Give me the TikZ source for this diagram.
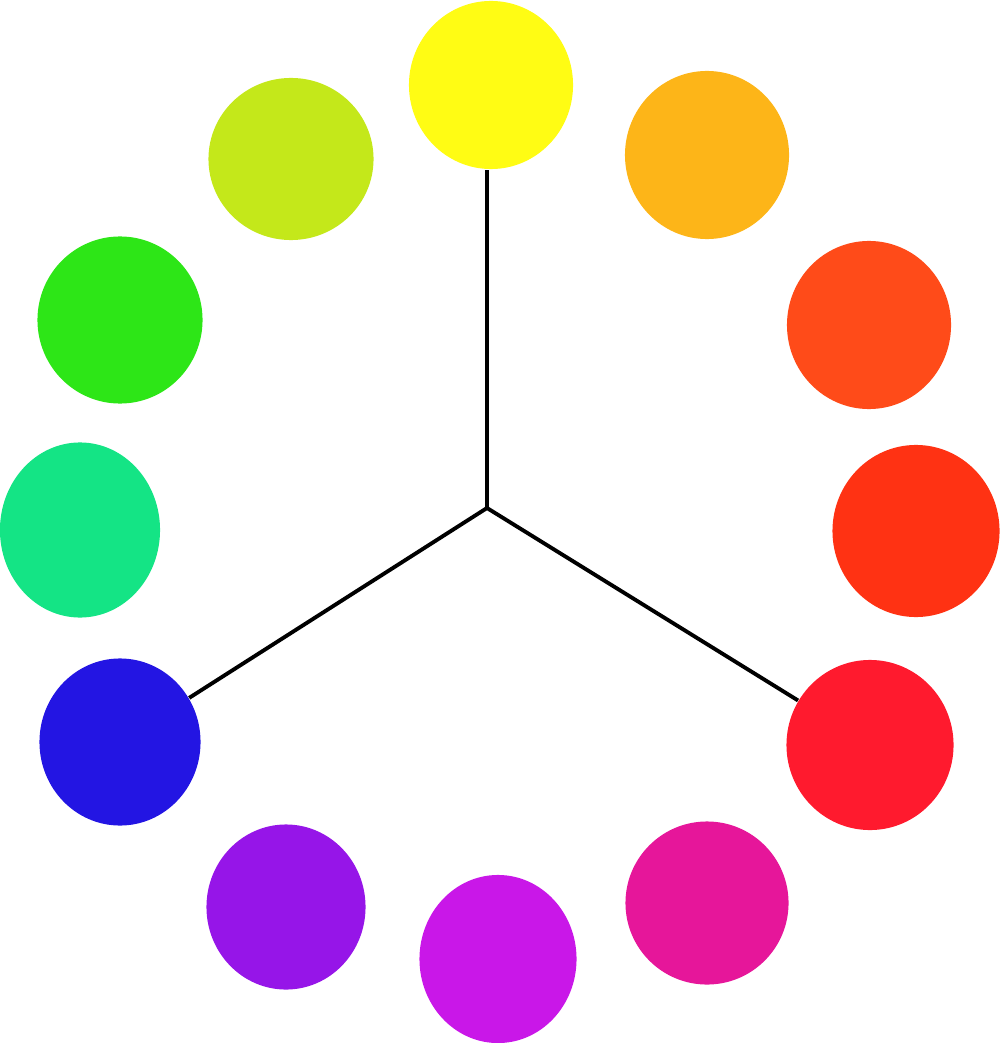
\documentclass[tikz,border=0pt]{standalone}
\usetikzlibrary{shapes.geometric}
\definecolor{cYellow}{HTML}{FFFC14}
\definecolor{cYelOr}{HTML}{FDB518}
\definecolor{cOrange}{HTML}{FF4B19}
\definecolor{cRedOr}{HTML}{FF3213}
\definecolor{cRed}{HTML}{FF1A2E}
\definecolor{cMagenta}{HTML}{E6169A}
\definecolor{cPurple}{HTML}{C917E8}
\definecolor{cViolet}{HTML}{9615E8}
\definecolor{cBlue}{HTML}{2315E3}
\definecolor{cTeal}{HTML}{14E485}
\definecolor{cGreen}{HTML}{2DE617}
\definecolor{cYelGr}{HTML}{C4E81A}
\tikzset{
  dot/.style={ellipse, inner sep=0pt, draw=none, fill=#1, minimum width=1.64cm, minimum height=1.68cm},
  spoke/.style={line width=1.1pt, black}
}
\begin{document}
\begin{tikzpicture}[x=0.01cm, y=-0.01cm]
\useasboundingbox (0,0) rectangle (1000,1043);
\node[dot=cYellow] (yellow) at (491,85) {};
\node[dot=cYelOr] (yelor) at (707,155) {};
\node[dot=cOrange] (orange) at (869,325) {};
\node[dot=cRedOr, minimum width=1.67cm, minimum height=1.72cm] (redor) at (916,531) {};
\node[dot=cRed, minimum width=1.67cm, minimum height=1.70cm] (red) at (870,745) {};
\node[dot=cMagenta, minimum width=1.63cm, minimum height=1.63cm] (magenta) at (707,903) {};
\node[dot=cPurple, minimum width=1.57cm, minimum height=1.68cm] (purple) at (498,959) {};
\node[dot=cViolet, minimum width=1.59cm, minimum height=1.65cm] (violet) at (286,907) {};
\node[dot=cBlue, minimum width=1.61cm, minimum height=1.67cm] (blue) at (120,742) {};
\node[dot=cTeal, minimum width=1.60cm, minimum height=1.75cm] (teal) at (80,530) {};
\node[dot=cGreen, minimum width=1.65cm, minimum height=1.67cm] (green) at (120,320) {};
\node[dot=cYelGr, minimum width=1.65cm, minimum height=1.62cm] (yelgr) at (291,159) {};
\coordinate (hub) at (487,508);
\draw[spoke] (hub) -- (hub |- yellow.south);
\draw[spoke] (hub) -- (blue);
\draw[spoke] (hub) -- (red);
\end{tikzpicture}
\end{document}
